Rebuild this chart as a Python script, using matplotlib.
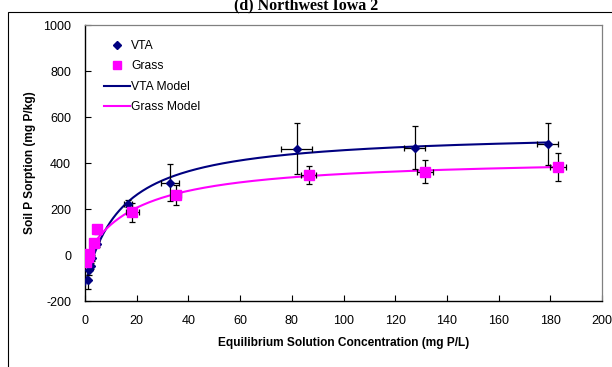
import numpy as np
import matplotlib
matplotlib.use("Agg")
import matplotlib.pyplot as plt
from matplotlib.patches import Rectangle
from matplotlib.lines import Line2D

plt.rcParams["font.family"] = ["Liberation Sans", "DejaVu Sans"]
plt.rcParams["axes.unicode_minus"] = False

# datos
vta_c = [1.2, 1.7, 2.4, 2.8, 4.5, 16.7, 33.0, 82.0, 127.5, 179.0]
vta_s = [-109, -66, -48, -12, 48, 223, 315, 462, 467, 484]
vta_yerr = [40, 20, 15, 12, 12, 15, 80, 110, 95, 92]
vta_xerr = [0.3, 0.3, 0.3, 0.3, 0.5, 1.5, 3.5, 6.0, 4.0, 4.0]

grass_c = [0.3, 1.0, 1.7, 3.6, 4.6, 18.2, 35.2, 86.5, 131.5, 183.0]
grass_s = [-29, -9, 6, 53, 112, 185, 260, 347, 362, 383]
grass_yerr = [10, 10, 10, 12, 20, 40, 43, 40, 50, 61]
grass_xerr = [0.2, 0.3, 0.3, 0.5, 0.5, 2.5, 2.0, 3.0, 3.0, 3.0]

# parámetros del modelo tipo Langmuir: S = smax*C/(a+C) + s0
vta_modelo = {"smax": 671, "a": 14, "s0": -133}
grass_modelo = {"smax": 441, "a": 20, "s0": -15}

NAVY = "#000080"
MAGENTA = "#FF00FF"


def langmuir(c, p):
    return p["smax"] * c / (p["a"] + c) + p["s0"]


fig = plt.figure(figsize=(6.12, 3.67), dpi=100)
ax = fig.add_axes([85 / 612, 1 - 301 / 367, 517 / 612, 276 / 367])

# marco exterior
fig.patches.append(Rectangle((8 / 612, -0.2), 1.2, 0.2 + 1 - 12 / 367,
                             transform=fig.transFigure, fill=False,
                             edgecolor="black", lw=0.8))
fig.text(0.5, 1 - 9 / 367, "(d) Northwest Iowa 2", ha="center",
         va="baseline", fontsize=11.5, fontweight="bold",
         family=["Liberation Serif", "DejaVu Serif"])

c_vta = np.linspace(0.1, max(vta_c), 300)
c_grass = np.linspace(min(grass_c), max(grass_c), 300)
ax.plot(c_vta, langmuir(c_vta, vta_modelo), color=NAVY, lw=1.5, zorder=3)
ax.plot(c_grass, langmuir(c_grass, grass_modelo), color=MAGENTA, lw=1.5,
        zorder=3)

ax.errorbar(vta_c, vta_s, yerr=vta_yerr, xerr=vta_xerr, fmt="D",
            color=NAVY, ms=4, ecolor="black", elinewidth=0.9, capsize=2,
            capthick=0.9, zorder=4)
ax.errorbar(grass_c, grass_s, yerr=grass_yerr, xerr=grass_xerr, fmt="s",
            color=MAGENTA, ms=6.5, ecolor="black", elinewidth=0.9,
            capsize=2, capthick=0.9, zorder=4)

ax.set_xlim(0, 200)
ax.set_ylim(-200, 1000)
ax.set_xticks(np.arange(0, 201, 20))
ax.set_yticks(np.arange(-200, 1001, 200))
ax.tick_params(direction="in", length=4, labelsize=9, width=0.8)
ax.tick_params(axis="x", pad=10)
ax.tick_params(axis="y", pad=10)
for lado in ["left", "bottom"]:
    ax.spines[lado].set_linewidth(1.0)
for lado in ["top", "right"]:
    ax.spines[lado].set_color("#808080")
    ax.spines[lado].set_linewidth(0.9)

ax.set_xlabel("Equilibrium Solution Concentration (mg P/L)", fontsize=8.6,
              fontweight="bold", labelpad=7)
ax.set_ylabel("Soil P Sorption (mg P/kg)", fontsize=8.6, fontweight="bold",
              labelpad=5)

handles = [
    Line2D([], [], ls="none", marker="D", color=NAVY, ms=4),
    Line2D([], [], ls="none", marker="s", color=MAGENTA, ms=6),
    Line2D([], [], color=NAVY, lw=1.5),
    Line2D([], [], color=MAGENTA, lw=1.5),
]
ax.legend(handles, ["VTA", "Grass", "VTA Model", "Grass Model"],
          loc="upper left", bbox_to_anchor=(0.015, 0.985), frameon=False,
          fontsize=8.7, handlelength=2.2, handletextpad=0.1,
          labelspacing=0.7)

fig.savefig("out.png", dpi=100)
